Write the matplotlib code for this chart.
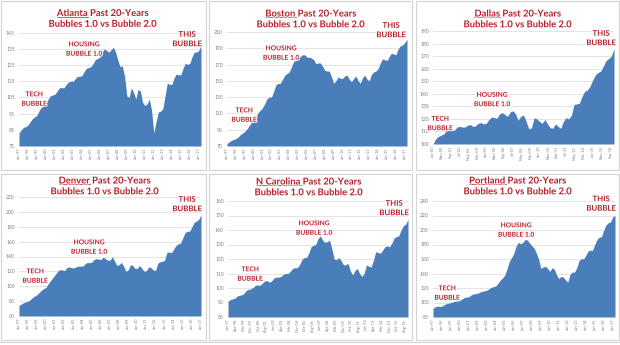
import matplotlib
matplotlib.use("Agg")
import matplotlib.pyplot as plt
import matplotlib.patheffects as pe
from matplotlib.lines import Line2D
from matplotlib.patches import Rectangle

plt.rcParams['font.family'] = ['Lato', 'DejaVu Sans']

# -------- Data: quarterly index values --------
atlanta = [83, 85, 86.5, 87, 88, 90, 92, 93, 94, 97, 99, 100,
           101, 104, 106, 106.5, 107, 109, 111, 111, 111, 113, 114.5, 115,
           115, 116.5, 118, 118, 118.5, 121, 123, 123.5, 124, 126, 128.5, 129,
           130, 133, 135, 134, 133, 134.5, 136, 133, 128, 124, 124.5, 118,
           106, 105, 111, 108, 104, 110, 109, 102, 100, 101, 104, 97,
           83, 90, 96, 96.5, 98, 106, 114, 113, 113, 117, 119.5, 119,
           119, 123, 126, 125.5, 126, 130, 133, 133, 134, 137]

boston = [73, 75, 77, 78, 79, 81, 84, 86, 88, 91, 95, 99,
          101, 106, 111, 114, 117, 122, 128, 130, 130, 137, 145, 147,
          147, 152, 157, 159, 161, 167, 174, 175, 176, 180, 182, 182,
          179, 179, 178, 176, 171, 172, 172, 168, 163, 162, 162, 155,
          147, 150, 155, 153, 153, 156, 157, 152, 149, 153, 156, 150,
          147, 154, 157, 152, 150, 158, 161, 162, 165, 172, 177, 176,
          175, 180, 184, 183, 182, 189, 193, 194, 197, 201]

dallas = [100, 104, 106, 107, 108, 110.5, 111, 111, 111, 113.5, 114, 113.5,
          113.5, 115, 115.5, 114, 114.5, 116.5, 117, 116, 116.5, 119.5, 121.5, 121,
          120.5, 124, 125, 123.5, 122, 125.5, 126.5, 124, 119, 122, 123, 118,
          112, 113, 121, 120, 118, 116.5, 119.5, 116, 113, 112.5, 116, 114,
          112.5, 118, 121, 120, 123, 131.5, 132, 132.5, 138, 142, 143, 146,
          151, 155, 157, 158, 162, 166.5, 168, 170, 176]

denver = [74, 76, 78, 79, 80, 82, 85, 87, 89, 92, 95, 97,
          99, 104, 108, 112, 116, 120, 122.5, 122, 121, 125, 126, 125,
          124.5, 126, 127, 127, 127, 130, 132, 131.5, 132.5, 136, 137, 136.5,
          136, 139, 137, 135, 135, 139.5, 134, 128, 129, 132, 127, 120,
          122, 129, 128, 124, 124, 128, 124, 120, 121, 126, 125, 122,
          121, 131, 133, 133.5, 135, 145.5, 146, 145, 150, 155, 157, 158,
          165, 172, 174, 174, 180, 186, 187.5, 190, 196]

ncarolina = [91, 92, 92.5, 93, 94.5, 95, 95.3, 96.5, 98.5, 99, 99.5, 100.5,
             102, 102, 102, 103.5, 105, 105, 104, 105, 107, 107.5, 107.5, 108,
             109.5, 110, 110, 111.5, 113.5, 114, 114, 116, 119.5, 121, 121, 124,
             128.5, 129.5, 130, 134, 136, 133, 131.5, 132, 133, 127, 120, 119.5,
             121, 119, 116, 116, 117, 112, 109, 112, 113.5, 110, 108, 110,
             116, 115, 114.5, 119, 125, 124.5, 124, 126, 128.5, 129, 128.5, 131,
             134.5, 135.5, 136, 140, 143, 144, 147.5]

portland = [92, 94, 95, 94.5, 95, 97, 98.5, 99, 100, 101, 102, 102,
            103, 105, 107, 107.5, 108, 110.5, 112, 112, 113, 114.5, 115.5, 116,
            117, 119, 121, 122, 123, 127, 131, 134, 138, 147, 157, 162,
            168, 178, 183, 181, 183, 187, 186, 182, 178, 175, 168, 160,
            147, 149, 150, 147, 143, 148, 146, 138, 133, 136, 135, 131,
            128, 139, 142, 142, 148, 158, 160.5, 160, 165, 171, 172, 172,
            180, 187, 190, 191, 200, 207, 210, 211, 218, 220]

jan_ticks = ['Jan-97', 'Jan-98', 'Jan-99', 'Jan-00', 'Jan-01', 'Jan-02', 'Jan-03',
             'Jan-04', 'Jan-05', 'Jan-06', 'Jan-07', 'Jan-08', 'Jan-09', 'Jan-10',
             'Jan-11', 'Jan-12', 'Jan-13', 'Jan-14', 'Jan-15', 'Jan-16', 'Jan-17']
dallas_ticks = ['Jan-00', 'Nov-00', 'Sep-01', 'Jul-02', 'May-03', 'Mar-04', 'Jan-05',
                'Nov-05', 'Sep-06', 'Jul-07', 'May-08', 'Mar-09', 'Jan-10', 'Nov-10',
                'Sep-11', 'Jul-12', 'May-13', 'Mar-14', 'Jan-15', 'Nov-15', 'Sep-16']
ncar_ticks = ['Jun-97', 'Apr-98', 'Feb-99', 'Dec-99', 'Oct-00', 'Aug-01', 'Jun-02',
              'Apr-03', 'Feb-04', 'Dec-04', 'Oct-05', 'Aug-06', 'Jun-07', 'Apr-08',
              'Feb-09', 'Dec-09', 'Oct-10', 'Aug-11', 'Jun-12', 'Apr-13', 'Feb-14',
              'Dec-14', 'Oct-15', 'Aug-16']

# -------- Layout (pixel boxes on a 620x345 canvas) --------
W, H = 620, 345
panels = [
    dict(city='Atlanta', vals=atlanta, start='Jan-97', ticks=jan_ticks,
         ylim=(75, 145), ystep=10, box=(19, 32.7, 201, 146), title=(103, 13.5),
         tech=(34, 98.5), housing=(84, 48.5), this=(187, 39)),
    dict(city='Boston', vals=boston, start='Jan-97', ticks=jan_ticks,
         ylim=(70, 210), ystep=20, box=(227, 32, 407, 146), title=(311, 14),
         tech=(244, 114.5), housing=(281, 52.5), this=(391, 30)),
    dict(city='Dallas', vals=dallas, start='Jan-00', ticks=dallas_ticks,
         ylim=(100, 190), ystep=10, box=(433, 31, 614, 144), title=(518, 14),
         tech=(440, 123), housing=(492, 99), this=(601, 38)),
    dict(city='Denver', vals=denver, start='Jan-97', ticks=jan_ticks,
         ylim=(60, 220), ystep=20, box=(19, 197, 201, 316), title=(105, 181),
         tech=(35, 275.5), housing=(89, 246.5), this=(187, 204)),
    dict(city='N Carolina', vals=ncarolina, start='Jun-97', ticks=ncar_ticks,
         ylim=(80, 160), ystep=10, box=(228, 201, 408, 317), title=(309, 182),
         tech=(250, 273.5), housing=(314, 227.5), this=(394, 208)),
    dict(city='Portland', vals=portland, start='Jan-97', ticks=jan_ticks,
         ylim=(80, 240), ystep=20, box=(433, 201, 615, 317), title=(518, 181),
         tech=(447, 292.5), housing=(516, 229.5), this=(601, 203.5)),
]
frames = [(1, 1, 206, 170), (209, 1, 412, 170), (416, 1, 619, 170),
          (1, 174, 206, 340), (209, 174, 412, 340), (416, 174, 619, 340)]

MONTHS = ['Jan', 'Feb', 'Mar', 'Apr', 'May', 'Jun', 'Jul', 'Aug', 'Sep', 'Oct', 'Nov', 'Dec']
AREA = '#4a7ebb'
RED = '#b8202a'
GLOW = [pe.withStroke(linewidth=1.4, foreground='white')]
TITLE_FS = 6.8


def to_year(label):
    mon, yy = label.split('-')
    yy = int(yy)
    return (1900 + yy if yy > 50 else 2000 + yy) + MONTHS.index(mon) / 12


def fx(px):
    return px / W


def fy(py):
    return 1 - py / H


fig = plt.figure(figsize=(W / 100, H / 100), dpi=100)
fig.patch.set_facecolor('white')
renderer = fig.canvas.get_renderer()

for x0, y0, x1, y1 in frames:
    fig.add_artist(Rectangle((fx(x0), fy(y1)), fx(x1 - x0), (y1 - y0) / H,
                             transform=fig.transFigure, fill=False,
                             edgecolor='#d4d4d4', lw=0.8))

for p in panels:
    x0, y0, x1, y1 = p['box']
    ax = fig.add_axes([fx(x0), fy(y1), fx(x1 - x0), (y1 - y0) / H])
    t0 = to_year(p['start'])
    t = [t0 + 0.25 * i for i in range(len(p['vals']))]
    lo, hi = p['ylim']
    ax.fill_between(t, p['vals'], lo, color=AREA, lw=0, zorder=2)
    ax.set_xlim(t[0], t[-1])
    ax.set_ylim(lo, hi)
    ax.set_yticks(range(lo, hi + 1, p['ystep']))
    ax.grid(axis='y', color='#d9d9d9', lw=0.5, zorder=0)
    ax.set_xticks([to_year(s) for s in p['ticks']])
    ax.set_xticklabels(p['ticks'], rotation=90)
    ax.tick_params(axis='y', length=0, pad=3, labelsize=3.6, labelcolor='#7f7f7f')
    ax.tick_params(axis='x', length=0, pad=1.5, labelsize=2.8, labelcolor='#7f7f7f')
    for s in ax.spines.values():
        s.set_visible(False)
    ax.set_axisbelow(True)

    # title, city name underlined
    cx, cy = p['title']
    line1 = fig.text(fx(cx), fy(cy), p['city'] + ' Past 20-Years', ha='center', va='center',
                     fontsize=TITLE_FS, fontweight='bold', color=RED, path_effects=GLOW)
    fig.text(fx(cx), fy(cy + 10.8), 'Bubbles 1.0 vs Bubble 2.0', ha='center', va='center',
             fontsize=TITLE_FS, fontweight='bold', color=RED, path_effects=GLOW)
    bb = line1.get_window_extent(renderer)
    tmp = fig.text(0, 0, p['city'], fontsize=TITLE_FS, fontweight='bold')
    cw = tmp.get_window_extent(renderer).width
    tmp.remove()
    uy = bb.y0 + 1.1
    fig.add_artist(Line2D([bb.x0 / W, (bb.x0 + cw) / W], [uy / H, uy / H],
                          transform=fig.transFigure, color=RED, lw=0.5))

    for key, txt in [('tech', 'TECH\nBUBBLE'), ('housing', 'HOUSING\nBUBBLE 1.0'),
                     ('this', 'THIS\nBUBBLE')]:
        ax_, ay_ = p[key]
        fs = 5.6 if key == 'this' else 4.8
        fig.text(fx(ax_), fy(ay_), txt, ha='center', va='center', fontsize=fs,
                 fontweight='bold', color=RED, linespacing=1.4, path_effects=GLOW)

fig.add_artist(Line2D([0, 1], [fy(342), fy(342)], transform=fig.transFigure,
                      color='#d4d4d4', lw=0.8))

plt.savefig('out.png', dpi=100)
